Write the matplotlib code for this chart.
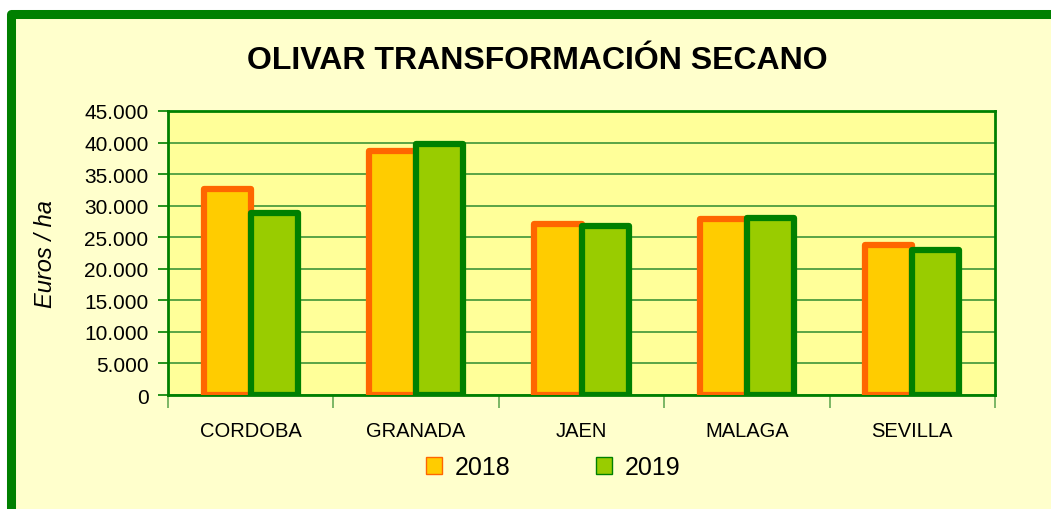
import numpy as np
import matplotlib
matplotlib.use("Agg")
import matplotlib.pyplot as plt
from matplotlib.patches import Rectangle, Patch
from matplotlib.ticker import FuncFormatter, MultipleLocator

plt.rcParams['font.family'] = ['Liberation Sans', 'DejaVu Sans']

provincias = ["CORDOBA", "GRANADA", "JAEN", "MALAGA", "SEVILLA"]
valores_2018 = [32600, 38600, 27100, 27900, 23800]
valores_2019 = [28800, 39800, 26800, 28000, 23000]

W, H = 1051, 510
fig = plt.figure(figsize=(W / 100, H / 100), dpi=100, facecolor="white")

# outer green frame, runs off the right and bottom edges
frame = Rectangle((10.5 / W, -0.2), 1.2, (1 - 14.5 / H) + 0.2,
                  transform=fig.transFigure, facecolor="#FFFFCC",
                  edgecolor="#008000", linewidth=6.5, joinstyle="round",
                  clip_on=False, zorder=-5)
fig.patches.append(frame)

ax = fig.add_axes([168 / W, 1 - 396 / H, (995 - 168) / W, (396 - 112) / H])
ax.set_facecolor("#FFFF99")

x = np.arange(len(provincias))
w = 0.285
ax.bar(x - w / 2, valores_2018, width=w, color="#FFCC00", edgecolor="#FF6600",
       linewidth=4.5, zorder=3, joinstyle="round")
ax.bar(x + w / 2, valores_2019, width=w, color="#99CC00", edgecolor="#008000",
       linewidth=4.5, zorder=3, joinstyle="round")

ax.set_xlim(-0.5, len(provincias) - 0.5)
ax.set_ylim(0, 45000)
ax.yaxis.set_major_locator(MultipleLocator(5000))
ax.yaxis.set_major_formatter(
    FuncFormatter(lambda v, p: f"{int(v):,}".replace(",", ".")))
ax.grid(axis="y", color="#2E8B2E", linewidth=1.1, zorder=1)
ax.set_axisbelow(True)

ax.set_xticks(np.arange(len(provincias) + 1) - 0.5)
ax.set_xticklabels([])
ax.set_xticks(x, minor=True)
ax.set_xticklabels(provincias, minor=True, fontsize=14.5)
ax.tick_params(axis="x", which="minor", length=0, pad=19)
ax.tick_params(axis="x", which="major", length=9, color="#66AA55", width=1.2)
ax.tick_params(axis="y", length=7, color="#008000", width=1.2, labelsize=15, pad=7)

for s in ax.spines.values():
    s.set_color("#008000")
    s.set_linewidth(2)

ax.set_ylabel("Euros / ha", fontsize=17, style="italic")
ax.yaxis.set_label_coords((57 - 168) / 827, 0.5)
fig.text(537 / W, 1 - 61 / H, "OLIVAR TRANSFORMACIÓN SECANO", ha="center",
         va="center", fontsize=23, fontweight="bold")

handles = [Patch(facecolor="#FFCC00", edgecolor="#FF6600", linewidth=1),
           Patch(facecolor="#99CC00", edgecolor="#008000", linewidth=1)]
fig.legend(handles, ["2018", "2019"], loc="center", ncol=2,
           bbox_to_anchor=(553 / W, 1 - 468 / H), frameon=False, fontsize=18,
           handlelength=0.65, handleheight=0.65, handletextpad=0.5,
           columnspacing=3.4)

fig.savefig("out.png", dpi=100, facecolor=fig.get_facecolor())
